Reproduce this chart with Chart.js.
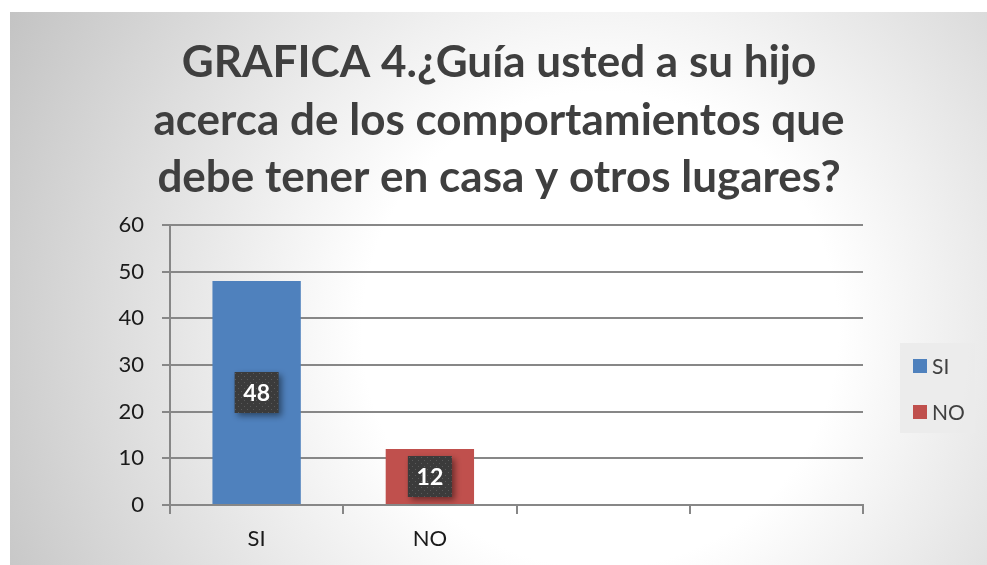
<!DOCTYPE html>
<html>
<head>
<meta charset="utf-8">
<script src="https://cdn.jsdelivr.net/npm/chart.js@4/dist/chart.umd.min.js"></script>
<style>
  html, body { margin: 0; padding: 0; background: #fff; }
  #wrap { width: 987px; height: 565px; }
</style>
</head>
<body>
<div id="wrap"><canvas id="chart" width="987" height="565"></canvas></div>
<script>
// datos de la grafica
const titleLines = ['GRAFICA 4.¿Guía usted a su hijo', 'acerca de los comportamientos que', 'debe tener en casa y otros lugares?'];
const categories = ['SI', 'NO', '', ''];
const siValues = [48, null, null, null];
const noValues = [null, 12, null, null];
const yTicks = [0, 10, 20, 30, 40, 50, 60];

const FONT = 'Lato, "Open Sans", sans-serif';

// fondo gris con degradado
const panelPlugin = {
  id: 'panel',
  beforeDraw(chart) {
    const ctx = chart.ctx;
    ctx.save();
    ctx.fillStyle = '#fff';
    ctx.fillRect(0, 0, chart.width, chart.height);
    const g = ctx.createRadialGradient(600, 330, 0, 600, 330, 680);
    g.addColorStop(0, '#ffffff');
    g.addColorStop(0.35, '#ffffff');
    g.addColorStop(1, '#c2c2c2');
    ctx.fillStyle = g;
    ctx.fillRect(10, 12, chart.width - 10, chart.height - 12);
    // titulo
    ctx.fillStyle = '#3f3f3f';
    ctx.font = 'bold 44px ' + FONT;
    ctx.textAlign = 'center';
    ctx.textBaseline = 'middle';
    titleLines.forEach((t, i) => ctx.fillText(t, 499, 63 + i * 57.5));
    ctx.restore();
  }
};

// etiquetas de datos en cajas oscuras
let dotPattern = null;
function getPattern(ctx) {
  if (dotPattern) return dotPattern;
  const c = document.createElement('canvas');
  c.width = 6; c.height = 6;
  const p = c.getContext('2d');
  p.fillStyle = '#3b3b3b';
  p.fillRect(0, 0, 6, 6);
  p.fillStyle = '#5a5a5a';
  p.fillRect(1, 1, 1, 1);
  p.fillRect(4, 4, 1, 1);
  dotPattern = ctx.createPattern(c, 'repeat');
  return dotPattern;
}

const labelPlugin = {
  id: 'boxLabels',
  afterDatasetsDraw(chart) {
    const ctx = chart.ctx;
    chart.data.datasets.forEach((ds, di) => {
      const meta = chart.getDatasetMeta(di);
      meta.data.forEach((bar, i) => {
        const v = ds.data[i];
        if (v == null) return;
        const { x, y, base } = bar.getProps(['x', 'y', 'base'], true);
        const cy = (y + base) / 2;
        const w = 44, h = 41;
        ctx.save();
        ctx.shadowColor = 'rgba(0,0,0,0.45)';
        ctx.shadowBlur = 6;
        ctx.shadowOffsetX = 3;
        ctx.shadowOffsetY = 3;
        ctx.fillStyle = getPattern(ctx);
        ctx.fillRect(x - w / 2, cy - h / 2, w, h);
        ctx.restore();
        ctx.save();
        ctx.fillStyle = '#fff';
        ctx.font = 'bold 23px ' + FONT;
        ctx.textAlign = 'center';
        ctx.textBaseline = 'middle';
        ctx.fillText(String(v), x, cy + 1);
        ctx.restore();
      });
    });
  }
};

// leyenda a la derecha
const legendPlugin = {
  id: 'sideLegend',
  afterDraw(chart) {
    const ctx = chart.ctx;
    ctx.save();
    ctx.fillStyle = 'rgba(235,235,235,0.9)';
    ctx.fillRect(900, 343, 75, 90);
    ctx.font = '21px ' + FONT;
    ctx.textBaseline = 'middle';
    chart.data.datasets.forEach((ds, i) => {
      const yy = 366 + i * 46;
      ctx.fillStyle = ds.backgroundColor;
      ctx.fillRect(913, yy - 7, 14, 14);
      ctx.fillStyle = '#404040';
      ctx.fillText(ds.label, 932, yy + 1);
    });
    ctx.restore();
  }
};

new Chart(document.getElementById('chart'), {
  type: 'bar',
  data: {
    labels: categories,
    datasets: [
      { label: 'SI', data: siValues, backgroundColor: '#4F81BD' },
      { label: 'NO', data: noValues, backgroundColor: '#C0504D' }
    ]
  },
  options: {
    responsive: false,
    animation: false,
    skipNull: true,
    layout: { padding: { top: 225, right: 124, bottom: 0, left: 0 } },
    datasets: { bar: { categoryPercentage: 0.51, barPercentage: 1 } },
    plugins: {
      legend: { display: false },
      title: { display: false },
      tooltip: { enabled: false }
    },
    scales: {
      x: {
        afterFit(s) { s.height = 60; },
        grid: { drawOnChartArea: false, offset: true, tickLength: 9, color: '#878787', lineWidth: 2 },
        border: { color: '#878787', width: 2 },
        ticks: { color: '#1a1a1a', font: { family: FONT, size: 22 }, padding: 12 }
      },
      y: {
        min: 0, max: 60,
        afterFit(s) { s.width = 170; },
        afterBuildTicks(s) { s.ticks = yTicks.map(v => ({ value: v })); },
        grid: { color: '#878787', lineWidth: 2, tickLength: 8 },
        border: { color: '#878787', width: 2 },
        ticks: { color: '#1a1a1a', font: { family: FONT, size: 22 }, padding: 18 }
      }
    }
  },
  plugins: [panelPlugin, labelPlugin, legendPlugin]
});
</script>
</body>
</html>
